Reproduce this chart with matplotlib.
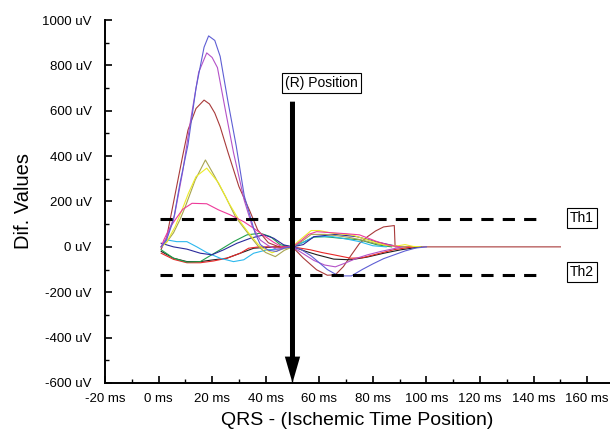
import numpy as np
import matplotlib
matplotlib.use("Agg")
import matplotlib.pyplot as plt
from matplotlib.ticker import MultipleLocator

plt.rcParams['font.family'] = ['Liberation Sans', 'DejaVu Sans']

# tick labels
x_ticks = [-20, 0, 20, 40, 60, 80, 100, 120, 140, 160]
x_labels = ["-20 ms", "0 ms", "20 ms", "40 ms", "60 ms", "80 ms",
            "100 ms", "120 ms", "140 ms", "160 ms"]
y_ticks = [-600, -400, -200, 0, 200, 400, 600, 800, 1000]
y_labels = ["-600 uV", "-400 uV", "-200 uV", "0 uV", "200 uV",
            "400 uV", "600 uV", "800 uV", "1000 uV"]

# thresholds / R position
th1 = 123
th2 = -123
th_end = 144
r_pos = 50
r_top = 640

# curves (ms, uV)
blue_t = [1, 3, 5.6, 8, 11, 14, 17, 18.7, 21, 23, 26, 29, 32, 36, 38, 41, 44, 47, 50,
          53, 57, 60, 63, 66, 69, 72, 76, 80, 84, 88, 92, 96, 100]
blue_v = [0, 30, 119, 280, 450, 700, 880, 930, 910, 840, 635, 445, 225, 62, 10, -15, -20, -5, 0,
          -10, -40, -70, -100, -120, -128, -128, -100, -75, -52, -35, -18, -5, 0]

violet_t = [1, 3, 6, 9, 12, 15, 18, 20, 22, 25, 28, 32, 35, 38, 41, 44, 47, 50,
            54, 58, 62, 66, 70, 74, 78, 83, 87, 91]
violet_v = [0, 40, 140, 330, 560, 770, 855, 835, 790, 600, 415, 205, 90, 30, 5, -10, -5, 0,
            -30, -60, -80, -88, -70, -50, -35, -20, -10, 0]

darkred_t = [1, 3, 6, 9, 11, 14, 17, 19, 21, 23, 26, 30, 34, 37, 41, 45, 50,
             54, 59, 63, 66, 69, 72, 75, 78, 81, 84, 88, 88.3, 95, 150]
darkred_v = [-10, 40, 220, 400, 515, 610, 647, 630, 590, 530, 414, 266, 160, 75, 18, 0, 0,
             -49, -101, -125, -123, -87, -35, 15, 45, 70, 88, 94, 0, 0, 0]

olive_t = [1, 3, 5.6, 8, 10, 13.7, 17.5, 21, 25, 28.7, 32.4, 35, 37.4, 40, 43.6, 47, 50,
           53, 57, 62, 66, 71, 76, 81, 86, 92]
olive_v = [0, 20, 62, 120, 177, 295, 383, 310, 222, 133, 75, 35, 0, -25, -43, -15, 0,
           20, 55, 55, 50, 42, 30, 15, 5, 0]

yellow_t = [1, 3, 6.2, 9, 11.2, 14, 18, 22.4, 26.2, 30, 33.6, 38, 42.4, 46, 50,
            52, 57, 60, 65, 72, 78, 84, 89, 92, 95, 98]
yellow_v = [0, 20, 89, 170, 237, 310, 347, 282, 194, 119, 62, 0, -26, -10, 0,
            23, 72, 72, 60, 53, 31, 9, 4, 10, 2, 0]

pink_t = [1, 2, 4, 6.2, 9, 12.5, 18, 22.4, 26.8, 31.8, 35.5, 39.9, 43, 46, 50,
          53, 56, 59, 65, 70, 75, 81.6, 86, 90]
pink_v = [0, 31, 80, 119, 165, 192, 190, 163, 141, 111, 82, 45, 20, 0, 0,
          25, 55, 67, 62, 58, 53, 23, 8, 0]

green_t = [1, 5.6, 10.6, 15.6, 18.7, 23, 28, 33, 38, 41.8, 45.5, 50,
           54, 58, 62, 68, 75, 81.6, 87]
green_v = [-13, -50, -67, -65, -43, -13, 23, 53, 60, 45, 9, 0,
           20, 43, 45, 38, 31, 9, 0]

cyan_t = [1, 3, 6.8, 10.6, 14.3, 18, 23, 28, 31.8, 35.5, 40.5, 45.5, 50,
          54, 58, 65, 70, 75, 80, 85]
cyan_v = [0, 31, 23, 23, 0, -25, -50, -65, -57, -28, -13, -10, 0,
          20, 45, 45, 35, 23, 5, 0]

navy_t = [1, 5.6, 10.6, 15.6, 19.9, 24.3, 29.3, 34.3, 39.3, 43, 46.7, 50,
          54, 58, 66, 74, 82, 90]
navy_v = [16, 0, -10, -28, -35, -13, 16, 38, 53, 38, 9, 0,
          10, 45, 55, 45, 20, 0]

black_t = [1, 5.6, 10.6, 15.6, 20.6, 25.5, 30.5, 35.5, 40.5, 45, 50,
           51.7, 55, 59.2, 65.4, 71.7, 77.9, 84.1, 90.4, 98]
black_v = [-20, -50, -65, -65, -57, -50, -28, -6, -2, 0, 0,
           -6, -20, -35, -54, -57, -45, -28, -13, 0]

red_t = [1, 5.6, 10.6, 15.6, 20.6, 25.5, 30.5, 33.6, 37.4, 45, 50,
         56.7, 61, 65.4, 71.7, 76, 82, 88, 95]
red_v = [-28, -55, -70, -70, -62, -50, -28, -6, 0, 0, 0,
         -13, -25, -35, -50, -48, -30, -12, 0]

curves = [
    (darkred_t, darkred_v, '#a83a3a'),
    (black_t, black_v, '#202020'),
    (red_t, red_v, '#e82828'),
    (green_t, green_v, '#22a04a'),
    (cyan_t, cyan_v, '#2cb8ee'),
    (navy_t, navy_v, '#2a2a9c'),
    (olive_t, olive_v, '#a8a450'),
    (yellow_t, yellow_v, '#ecec28'),
    (pink_t, pink_v, '#ee3a9a'),
    (violet_t, violet_v, '#b452c8'),
    (blue_t, blue_v, '#5e5ed4'),
]

fig = plt.figure(figsize=(6.1, 4.33), dpi=100)
ax = fig.add_axes([0.172, 0.1155, 0.828, 0.8383])

for t, v, c in curves:
    ax.plot(t, v, color=c, lw=0.8)

# threshold lines
ax.plot([0.7, th_end], [th1, th1], color='black', lw=2.2, dashes=(4, 3))
ax.plot([0.7, th_end], [th2, th2], color='black', lw=2.2, dashes=(4, 3))
ax.text(158, th1 + 5, "Th1", fontsize=10, ha='center', va='center',
        bbox=dict(boxstyle='square,pad=0.22', fc='white', ec='black', lw=0.8))
ax.text(158, th2 + 12, "Th2", fontsize=10, ha='center', va='center',
        bbox=dict(boxstyle='square,pad=0.22', fc='white', ec='black', lw=0.8))

# R position arrow
ax.annotate('', xy=(r_pos, -600), xytext=(r_pos, r_top),
            arrowprops=dict(arrowstyle='simple,tail_width=0.18,head_width=0.55,head_length=0.95',
                            fc='black', ec='none', shrinkA=0, shrinkB=0,
                            mutation_scale=20))
ax.text(60.8, 722, "(R) Position", fontsize=10, ha='center', va='center',
        bbox=dict(boxstyle='square,pad=0.2', fc='white', ec='black', lw=0.8))

ax.set_xlim(-20, 168.5)
ax.set_ylim(-600, 1000)
ax.set_xticks(x_ticks)
ax.set_xticklabels(x_labels, fontsize=9.5)
ax.set_yticks(y_ticks)
ax.set_yticklabels(y_labels, fontsize=9.5)
ax.xaxis.set_minor_locator(MultipleLocator(10))
ax.yaxis.set_minor_locator(MultipleLocator(100))
ax.tick_params(which='major', direction='in', length=5, width=1.2)
ax.tick_params(which='minor', direction='in', length=3, width=1.0)
ax.tick_params(axis='x', pad=7.5)
ax.tick_params(axis='y', pad=9.5)

for s in ['top', 'right']:
    ax.spines[s].set_visible(False)
for s in ['left', 'bottom']:
    ax.spines[s].set_linewidth(1.4)

ax.set_ylabel("Dif. Values", fontsize=14.5, labelpad=7)
ax.set_xlabel("QRS - (Ischemic Time Position)", fontsize=14, labelpad=5)

fig.savefig("out.png", dpi=100)
